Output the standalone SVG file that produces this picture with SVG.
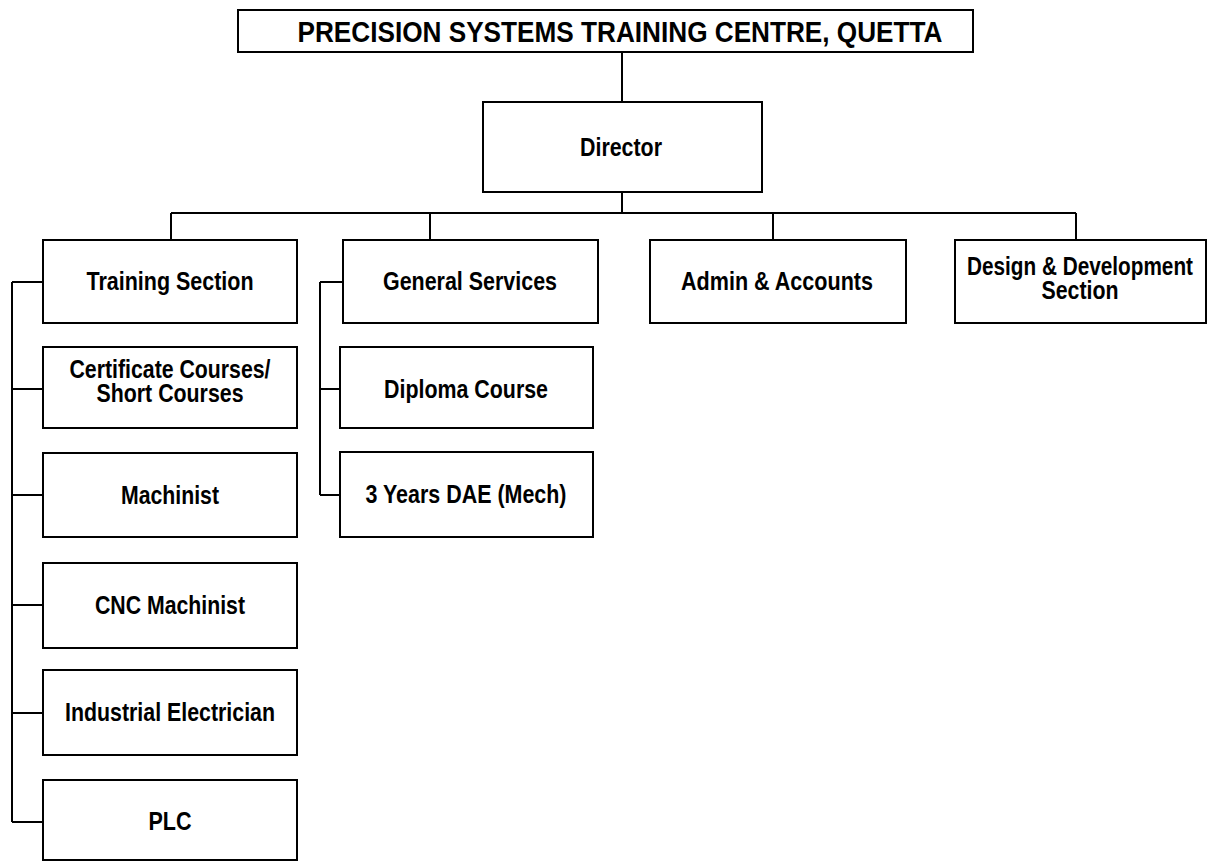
<svg xmlns="http://www.w3.org/2000/svg" width="1210" height="862" viewBox="0 0 1210 862">
<style>
.box{fill:#fff;stroke:#000;stroke-width:2}
.t{font-family:"Liberation Sans Narrow","Liberation Sans",Arial,sans-serif;font-weight:bold;font-size:26px;fill:#000;text-anchor:middle}
.title{font-size:29px}
.c{fill:none;stroke:#000;stroke-width:2}
</style>
<rect width="1210" height="862" fill="#fff"/>
<g id="connectors">
<path class="c" d="M622 52V102M622 192V213M171 213H1076M171 213V240M430 213V240M773 213V240M1076 213V240"/>
<path class="c" d="M12 282V822M12 282H43M12 389H43M12 495H43M12 605H43M12 713H43M12 822H43"/>
<path class="c" d="M320 282V495M320 282H343M320 389H340M320 495H340"/>
</g>
<g id="title"><rect class="box" x="238" y="10" width="735" height="42"/><text class="t title" x="620" y="42" textLength="645" lengthAdjust="spacingAndGlyphs">PRECISION SYSTEMS TRAINING CENTRE, QUETTA</text></g>
<g id="director"><rect class="box" x="483" y="102" width="279" height="90"/><text class="t" x="621" y="156" textLength="82" lengthAdjust="spacingAndGlyphs">Director</text></g>
<g id="training"><rect class="box" x="43" y="240" width="254" height="83"/><text class="t" x="170" y="290" textLength="167" lengthAdjust="spacingAndGlyphs">Training Section</text></g>
<g id="general"><rect class="box" x="343" y="240" width="255" height="83"/><text class="t" x="470" y="290" textLength="174" lengthAdjust="spacingAndGlyphs">General Services</text></g>
<g id="admin"><rect class="box" x="650" y="240" width="256" height="83"/><text class="t" x="777" y="290" textLength="192" lengthAdjust="spacingAndGlyphs">Admin &amp; Accounts</text></g>
<g id="design"><rect class="box" x="955" y="240" width="251" height="83"/><text class="t" x="1080" y="275" textLength="226" lengthAdjust="spacingAndGlyphs">Design &amp; Development</text><text class="t" x="1080" y="299" textLength="77" lengthAdjust="spacingAndGlyphs">Section</text></g>
<g id="certificate"><rect class="box" x="43" y="347" width="254" height="81"/><text class="t" x="170" y="378" textLength="201" lengthAdjust="spacingAndGlyphs">Certificate Courses/</text><text class="t" x="170" y="402" textLength="147" lengthAdjust="spacingAndGlyphs">Short Courses</text></g>
<g id="machinist"><rect class="box" x="43" y="453" width="254" height="84"/><text class="t" x="170" y="504" textLength="98" lengthAdjust="spacingAndGlyphs">Machinist</text></g>
<g id="cnc"><rect class="box" x="43" y="563" width="254" height="85"/><text class="t" x="170" y="614" textLength="150" lengthAdjust="spacingAndGlyphs">CNC Machinist</text></g>
<g id="electrician"><rect class="box" x="43" y="670" width="254" height="85"/><text class="t" x="170" y="721" textLength="210" lengthAdjust="spacingAndGlyphs">Industrial Electrician</text></g>
<g id="plc"><rect class="box" x="43" y="780" width="254" height="80"/><text class="t" x="170" y="830" textLength="43" lengthAdjust="spacingAndGlyphs">PLC</text></g>
<g id="diploma"><rect class="box" x="340" y="347" width="253" height="81"/><text class="t" x="466" y="398" textLength="164" lengthAdjust="spacingAndGlyphs">Diploma Course</text></g>
<g id="dae"><rect class="box" x="340" y="452" width="253" height="85"/><text class="t" x="466" y="503" textLength="201" lengthAdjust="spacingAndGlyphs">3 Years DAE (Mech)</text></g>
</svg>
